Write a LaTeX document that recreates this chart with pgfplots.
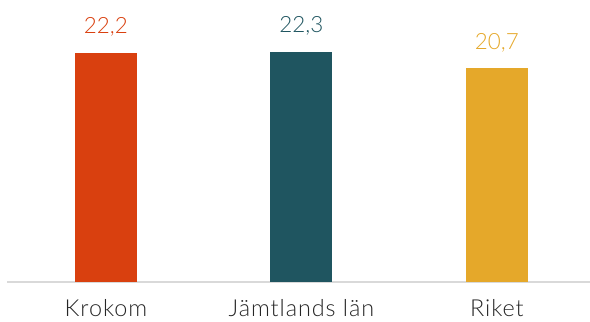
\documentclass[border=0pt]{standalone}
\usepackage{pgfplots}
\pgfplotsset{compat=1.18}
\usepackage{fontspec}
\setmainfont{Lato Light}
\definecolor{cA}{HTML}{D9400F}
\definecolor{cB}{HTML}{1F5560}
\definecolor{cC}{HTML}{E5A82A}
\definecolor{base}{HTML}{D9D9D9}
\definecolor{txt}{HTML}{262626}
\begin{document}
\begin{tikzpicture}
\begin{axis}[
  at={(0,0)}, anchor=south west,
  scale only axis, width=583bp, height=282bp,
  xmin=-0.506, xmax=2.476, ymin=0, ymax=27.33,
  hide y axis,
  axis x line*=bottom,
  x axis line style={base, line width=1.5bp, -},
  xtick={0,1,2}, xticklabels={Krokom,Jämtlands län,Riket},
  major tick length=0pt,
  xticklabel style={anchor=base, yshift=-34bp, font=\addfontfeatures{LetterSpace=4}\fontsize{23.5}{28}\selectfont, text=txt, inner sep=0pt},
  ybar, bar width=62bp, bar shift=0pt,
  nodes near coords,
  every node near coord/.append style={anchor=center, yshift=26bp, font=\fontsize{22.5}{27}\selectfont},
  /pgf/number format/.cd, use comma, fixed, fixed zerofill, precision=1, assume math mode=true,
]
\addplot[fill=cA, draw=none, nodes near coords style={text=cA}] coordinates {(0,22.2)};
\addplot[fill=cB, draw=none, nodes near coords style={text=cB}] coordinates {(1,22.3)};
\addplot[fill=cC, draw=none, nodes near coords style={text=cC}] coordinates {(2,20.7)};
\end{axis}
\pgfresetboundingbox
\path (-7bp,-40bp) rectangle (583bp,282bp);
\end{tikzpicture}
\end{document}
